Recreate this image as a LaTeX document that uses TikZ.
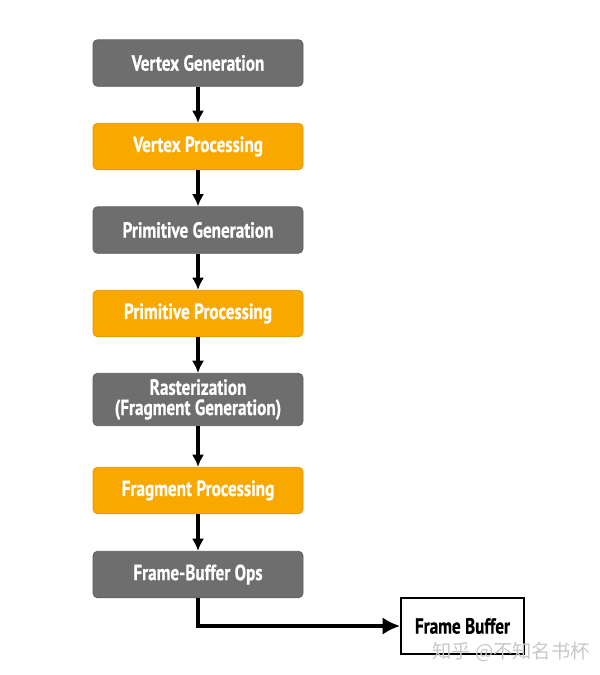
\documentclass[tikz,border=0pt]{standalone}
\usepackage{fontspec}
\usepackage{xcolor}
\usepackage{tikz}
\usetikzlibrary{arrows.meta, positioning}
\newfontfamily\stagefont[FakeStretch=0.78, FakeBold=0.6]{PT Sans Bold}
\newfontfamily\cjkmark{Noto Sans CJK SC}
\definecolor{stageGray}{RGB}{110, 110, 110}
\definecolor{stageOrange}{RGB}{249, 168, 0}
\definecolor{markGray}{RGB}{200, 200, 200}

\begin{document}
\begin{tikzpicture}[
    stage/.style={rectangle, rounded corners=2.5pt, minimum width=4.2cm, minimum height=0.93cm, text centered, align=center, text=white, font=\stagefont\fontsize{12.5}{13}\selectfont},
    fixed/.style={stage, fill=stageGray, draw=stageGray!85!black},
    prog/.style={stage, fill=stageOrange, draw=stageOrange!90!black},
    flow/.style={line width=2pt, -{Latex[length=7pt, width=7pt]}}
]
    \useasboundingbox (0,0) rectangle (12,-13.5);

    \node[fixed] (vgen) at (3.96,-1.26) {Vertex Generation};
    \node[prog] (vproc) at (3.96,-2.93) {Vertex Processing};
    \node[fixed] (pgen) at (3.96,-4.6) {Primitive Generation};
    \node[prog] (pproc) at (3.96,-6.27) {Primitive Processing};
    \node[fixed, font=\stagefont\fontsize{12.5}{11.5}\selectfont] (raster) at (3.96,-7.99) {Rasterization\\(Fragment Generation)};
    \node[prog] (fproc) at (3.96,-9.81) {Fragment Processing};
    \node[fixed] (fbops) at (3.96,-11.49) {Frame-Buffer Ops};
    \node[draw, line width=1pt, minimum width=2.46cm, minimum height=1.12cm, font=\stagefont\fontsize{12.5}{13}\selectfont] (fbuf) at (9.25,-12.52) {Frame Buffer};

    \draw[flow] (vgen) -- (vproc);
    \draw[flow] (vproc) -- (pgen);
    \draw[flow] (pgen) -- (pproc);
    \draw[flow] (pproc) -- (raster);
    \draw[flow] (raster) -- (fproc);
    \draw[flow] (fproc) -- (fbops);
    \draw[flow, -{Latex[length=10pt, width=10pt]}] (fbops.south) |- (fbuf.west);

    \node[text=markGray, font=\cjkmark\fontsize{11}{12}\selectfont] (mark) at (10.22,-13.04) {知乎 @不知名书杯};
\end{tikzpicture}
\end{document}
